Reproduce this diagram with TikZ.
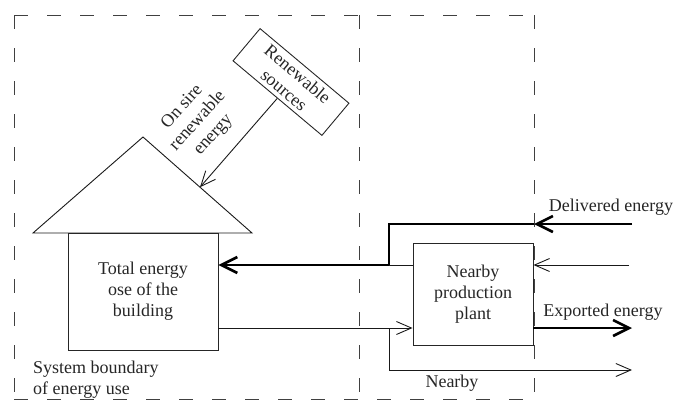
\documentclass[tikz,border=0pt]{standalone}
\usepackage{fontspec}
\setmainfont{Liberation Serif}
\usetikzlibrary{arrows.meta,calc}
\begin{document}
\begin{tikzpicture}[x=1pt,y=-1pt,
  txt/.style={font=\fontsize{18}{21}\selectfont, align=center, inner sep=0pt, text=black!85},
  boxed/.style={txt, draw=black!85, line width=0.9pt},
  boundary/.style={draw=black!75, line width=1pt, dash pattern=on 14pt off 19pt},
  thinflow/.style={draw=black!90, line width=0.9pt},
  thickflow/.style={draw=black, line width=2.6pt},
  thintip/.style={-{Straight Barb[length=15pt,width=13pt,line width=0.9pt]}},
  thicktip/.style={-{Straight Barb[length=16pt,width=16pt,line width=2.6pt]}}
]
\useasboundingbox (0,0) rectangle (678,400);

% system boundaries
\coordinate (bTL) at (14,15);
\coordinate (bTR) at (534,15);
\coordinate (bBL) at (14,399);
\coordinate (bBR) at (534,399);
\coordinate (bMT) at (359,15);
\coordinate (bMB) at (359,399);
\draw[boundary] (bTL) -- (bTR);
\draw[boundary] (bTL) -- (bBL);
\draw[boundary] (bBL) -- (bBR);
\draw[boundary] (bTR) -- (bBR);
\draw[boundary] (bMT) -- (bMB);

% house
\coordinate (roofL) at (33,233);
\coordinate (roofT) at (143,137);
\coordinate (roofR) at (252,233);
\draw[thinflow] (roofL) -- (roofT) -- (roofR) -- cycle;
\node[boxed, minimum width=150pt, minimum height=117pt] (house) at (143,291.5)
  {Total energy\\ose of the\\building};

% renewable sources
\node[boxed, rotate=-40, minimum width=116pt, minimum height=42pt] (ren) at (291,82)
  {Renewable\\sources};
\coordinate (roofHit) at ($(roofT)!0.523!(roofR)$);
\draw[thinflow, thintip] (ren.south) -- (roofHit);
\node[txt, rotate=48] (onsite) at (198,121) {On sire\\renewable\\energy};

% nearby plant
\node[boxed, minimum width=120pt, minimum height=102pt] (plant) at (473,294)
  {Nearby\\production\\plant};

% helper coordinates
\coordinate (yDel) at (0,224);
\coordinate (yMid) at (0,265);
\coordinate (yExp) at (0,328);
\coordinate (yLow) at (0,370);
\coordinate (xJ) at (389,0);
\coordinate (dEnd) at (632,224);
\coordinate (dMid) at (534,224);
\coordinate (jTop) at (xJ |- yDel);
\coordinate (jMid) at (xJ |- yMid);
\coordinate (jExp) at (xJ |- yExp);
\coordinate (jLow) at (xJ |- yLow);
\coordinate (inEnd) at (629,265);
\coordinate (expEnd) at (632,328);
\coordinate (lowEnd) at (632,370);

% delivered energy (thick)
\draw[thickflow, thicktip] (dEnd) -- (dMid);
\draw[thickflow, thicktip] (dMid) -- (jTop) -- (jMid) -- (house.east |- yMid);
\draw[thinflow] (plant.west |- yMid) -- (jMid);

% thin input to plant from right
\draw[thinflow, thintip] (inEnd) -- (plant.east |- yMid);

% exported energy
\draw[thickflow, thicktip] (plant.east |- yExp) -- (expEnd);

% building output to plant and nearby
\draw[thinflow, thintip] (house.east |- yExp) -- (plant.west |- yExp);
\draw[thinflow, thintip] (jExp) -- (jLow) -- (lowEnd);

% labels
\node[txt] (lblDel) at (611,207) {Delivered energy};
\node[txt] (lblExp) at (603,312) {Exported energy};
\node[txt] (lblNear) at (452,383) {Nearby};
\node[txt, anchor=west, align=left] (lblSys) at (33,380) {System boundary\\of energy use};
\end{tikzpicture}
\end{document}
